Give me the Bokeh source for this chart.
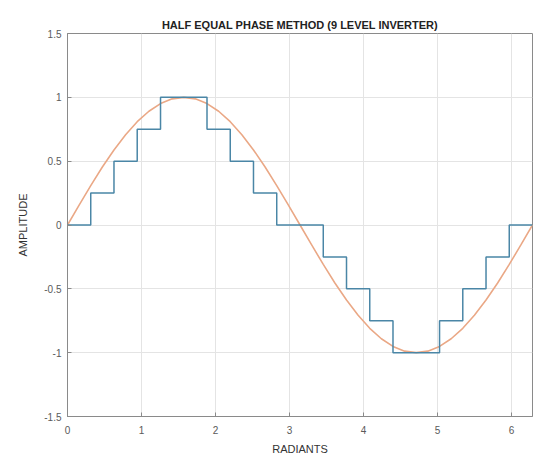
from bokeh.plotting import figure
from bokeh.models import Range1d, FixedTicker
from bokeh.embed import file_html
from bokeh.resources import INLINE

# Staircase (half equal phase, 9 level): switching angles (rad) and levels
step_edges = [0.0, 0.314, 0.628, 0.942, 1.257, 1.571, 1.885, 2.199, 2.513, 2.827,
              3.142, 3.456, 3.770, 4.084, 4.398, 4.712, 5.027, 5.341, 5.655, 5.969, 6.283]
step_levels = [0.0, 0.25, 0.5, 0.75, 1.0, 1.0, 0.75, 0.5, 0.25, 0.0,
               0.0, -0.25, -0.5, -0.75, -1.0, -1.0, -0.75, -0.5, -0.25, 0.0]

# Reference sine wave samples
sine_x = [0.000, 0.157, 0.314, 0.471, 0.628, 0.785, 0.942, 1.100, 1.257, 1.414,
          1.571, 1.728, 1.885, 2.042, 2.199, 2.356, 2.513, 2.670, 2.827, 2.985,
          3.142, 3.299, 3.456, 3.613, 3.770, 3.927, 4.084, 4.241, 4.398, 4.555,
          4.712, 4.869, 5.027, 5.184, 5.341, 5.498, 5.655, 5.812, 5.969, 6.126, 6.283]
sine_y = [0.000, 0.156, 0.309, 0.454, 0.588, 0.707, 0.809, 0.891, 0.951, 0.988,
          1.000, 0.988, 0.951, 0.891, 0.809, 0.707, 0.588, 0.454, 0.309, 0.156,
          0.000, -0.156, -0.309, -0.454, -0.588, -0.707, -0.809, -0.891, -0.951, -0.988,
          -1.000, -0.988, -0.951, -0.891, -0.809, -0.707, -0.588, -0.454, -0.309, -0.156, 0.000]

x_ticks = [0, 1, 2, 3, 4, 5, 6]
y_ticks = [-1.5, -1, -0.5, 0, 0.5, 1, 1.5]
y_tick_labels = ["-1.5", "-1", "-0.5", "0", "0.5", "1", "1.5"]

# Build stairs polyline from edges/levels
stair_x, stair_y = [], []
for i, lvl in enumerate(step_levels):
    stair_x += [step_edges[i], step_edges[i + 1]]
    stair_y += [lvl, lvl]

FONT = "Liberation Sans"
AX = "#8a8a8a"
LBL = "#5a5a5a"

p = figure(width=536, height=457, output_backend="svg", toolbar_location=None,
           x_range=Range1d(0, 6.283), y_range=Range1d(-1.5, 1.5),
           min_border_left=67, min_border_right=4, min_border_top=33, min_border_bottom=4,
           background_fill_color="white", border_fill_color="white")

p.title.text = "HALF EQUAL PHASE METHOD (9 LEVEL INVERTER)"
p.title.align = "center"
p.title.text_font = FONT
p.title.text_font_size = "11px"
p.title.text_font_style = "bold"
p.title.text_color = "#222222"
p.title.offset = 0
p.title.standoff = 6

p.outline_line_color = AX
p.outline_line_width = 1

p.xaxis.ticker = FixedTicker(ticks=x_ticks)
p.yaxis.ticker = FixedTicker(ticks=y_ticks)
p.yaxis.major_label_overrides = {t: l for t, l in zip(y_ticks, y_tick_labels)}
p.xaxis.axis_label = "RADIANTS"
p.yaxis.axis_label = "AMPLITUDE"
for ax in (p.xaxis[0], p.yaxis[0]):
    ax.axis_line_color = AX
    ax.major_tick_line_color = AX
    ax.major_tick_in = 4
    ax.major_tick_out = 0
    ax.minor_tick_line_color = None
    ax.major_label_text_font = FONT
    ax.major_label_text_font_size = "10px"
    ax.major_label_text_color = LBL
    ax.axis_label_text_font = FONT
    ax.axis_label_text_font_size = "11px"
    ax.axis_label_text_font_style = "normal"
    ax.axis_label_text_color = "#333333"
p.xaxis.major_label_standoff = 9
p.yaxis.major_label_standoff = 6
p.xaxis.axis_label_standoff = 6
p.yaxis.axis_label_standoff = 12

p.xgrid.ticker = FixedTicker(ticks=x_ticks)
p.ygrid.ticker = FixedTicker(ticks=y_ticks)
p.grid.grid_line_color = "#e4e4e4"
p.grid.grid_line_width = 1

p.line(sine_x, sine_y, line_color="#eaa886", line_width=1.6)
p.line(stair_x, stair_y, line_color="#4a86a6", line_width=1.5)

open("out.html", "w").write(file_html(p, INLINE))
